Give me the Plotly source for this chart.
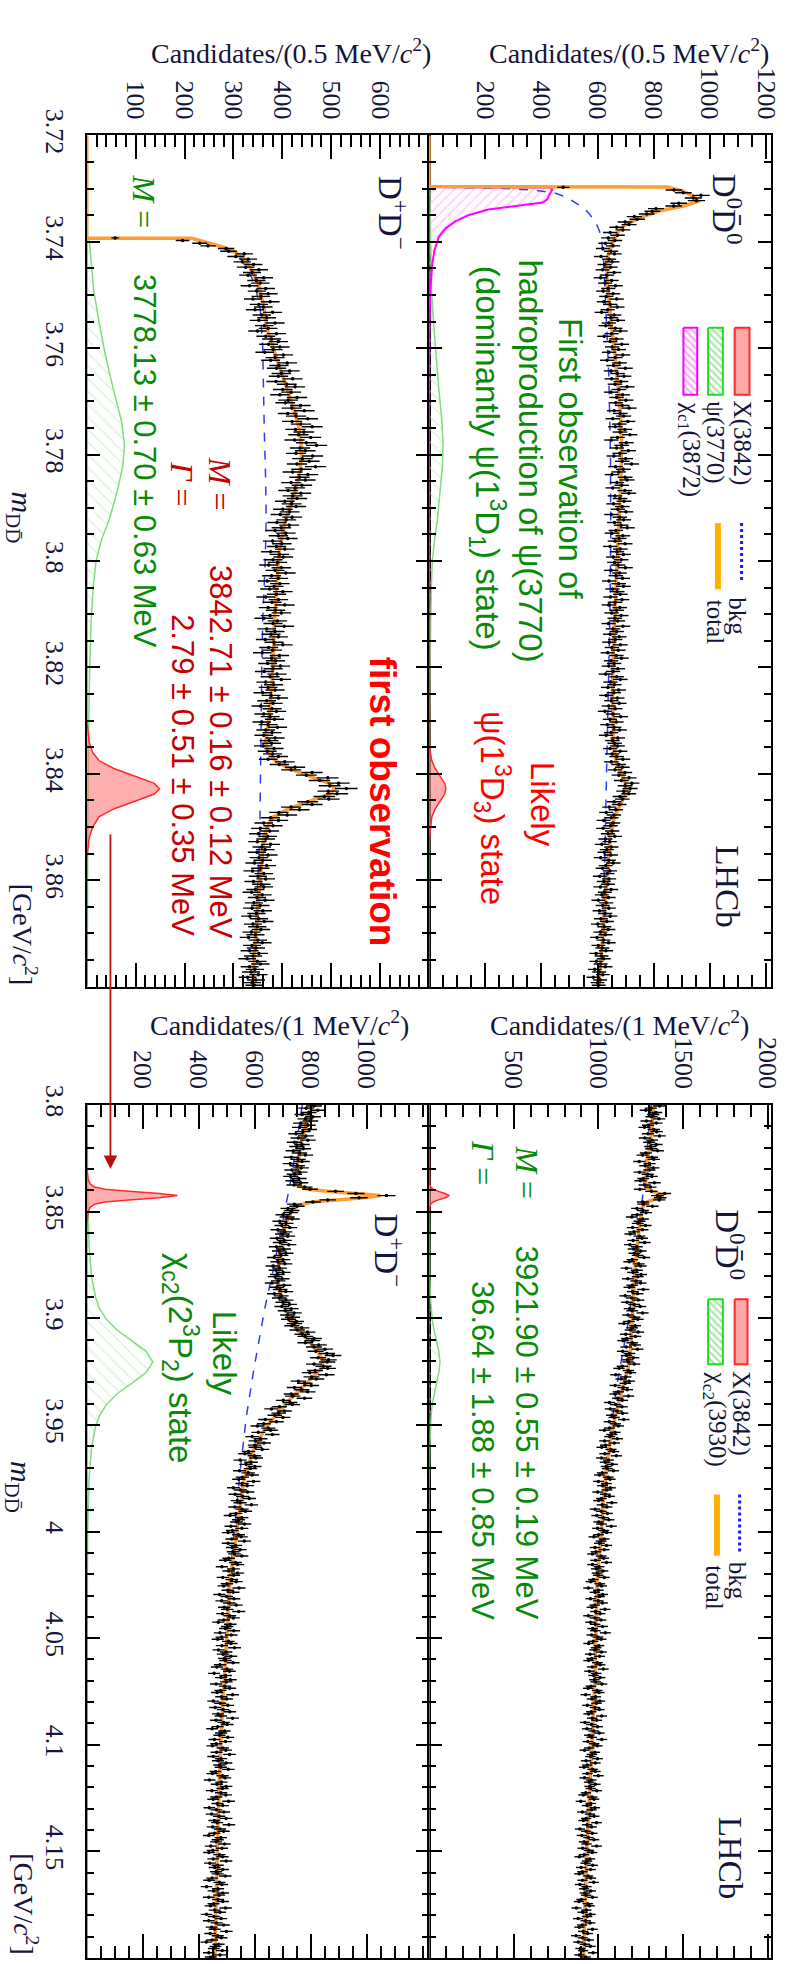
import numpy as np
import plotly.graph_objects as go

W, H = 795, 1964

# ---------------------------------------------------------------- data
# D+D- , 0.5 MeV bins, first filled bin centre 3.73925 GeV
tl_first_bin = 3.73925
tl_counts = [
    58, 196, 231, 248, 285, 290, 322, 305, 330, 318,
    341, 325, 352, 338, 330, 362, 347, 355, 333, 366,
    348, 371, 356, 340, 375, 352, 361, 344, 380, 358,
    368, 352, 385, 363, 371, 349, 388, 366, 378, 392,
    372, 395, 381, 364, 402, 385, 376, 410, 393, 388,
    415, 398, 392, 421, 387, 409, 426, 401, 418, 395,
    430, 412, 406, 437, 419, 445, 411, 428, 452, 420,
    438, 461, 427, 444, 433, 458, 425, 449, 470, 436,
    447, 428, 462, 441, 455, 430, 468, 439, 421, 452,
    435, 447, 418, 440, 426, 412, 438, 421, 430, 405,
    419, 428, 401, 415, 396, 420, 408, 389, 414, 398,
    385, 407, 392, 411, 380, 399, 388, 405, 376, 394,
    402, 381, 390, 372, 398, 385, 407, 378, 392, 369,
    395, 383, 374, 401, 388, 366, 392, 379, 405, 371,
    386, 398, 375, 362, 390, 381, 404, 368, 385, 377,
    392, 365, 383, 401, 372, 380, 359, 394, 378, 386,
    370, 396, 381, 363, 389, 375, 398, 366, 382, 371,
    385, 360, 377, 392, 368, 381, 356, 379, 388, 362,
    375, 384, 358, 371, 390, 366, 379, 362, 385, 373,
    378, 361, 383, 369, 380, 392, 371, 405, 394, 426,
    418, 461, 449, 493, 476, 515, 497, 531, 494, 512,
    486, 495, 452, 461, 418, 435, 393, 410, 376, 392,
    362, 381, 355, 374, 351, 370, 366, 349, 376, 358,
    365, 348, 371, 352, 360, 343, 368, 355, 339, 362,
    350, 366, 341, 357, 362, 345, 337, 359, 348, 365,
    342, 355, 338, 360, 347, 334, 352, 363, 340, 349,
    356, 337, 345, 331, 350, 359, 338, 346, 333, 352,
    340, 328, 349, 355, 333, 344, 336, 351, 329, 346,
    338, 343]

# D0 D0bar , 0.5 MeV bins, first filled bin centre 3.72975 GeV
tr_first_bin = 3.72975
tr_counts = [
    478, 872, 905, 968, 941, 952, 889, 871, 808, 795,
    775, 731, 741, 698, 712, 668, 690, 645, 671, 638,
    662, 628, 655, 619, 648, 660, 612, 641, 652, 625,
    646, 618, 659, 633, 611, 650, 627, 664, 638, 620,
    655, 631, 668, 622, 645, 670, 636, 614, 659, 648,
    672, 640, 629, 663, 681, 650, 624, 667, 645, 686,
    652, 675, 641, 690, 663, 634, 678, 657, 699, 648,
    671, 694, 650, 683, 662, 705, 676, 648, 689, 668,
    701, 665, 688, 712, 659, 681, 693, 654, 708, 677,
    663, 697, 680, 715, 671, 649, 702, 686, 668, 710,
    679, 658, 700, 688, 721, 664, 692, 675, 651, 698,
    705, 669, 686, 654, 697, 711, 662, 680, 694, 657,
    688, 672, 701, 649, 679, 693, 660, 684, 706, 665,
    651, 690, 677, 662, 698, 645, 681, 669, 692, 656,
    684, 660, 673, 699, 648, 678, 665, 689, 641, 675,
    692, 653, 670, 681, 646, 687, 662, 640, 679, 668,
    650, 684, 661, 672, 639, 690, 655, 668, 645, 677,
    663, 642, 681, 651, 674, 636, 667, 685, 648, 659,
    640, 672, 655, 629, 668, 681, 646, 660, 637, 675,
    658, 631, 670, 649, 677, 640, 663, 626, 655, 682,
    644, 667, 635, 659, 678, 648, 630, 672, 653, 661,
    671, 645, 680, 652, 668, 690, 649, 675, 688, 662,
    697, 676, 712, 685, 722, 698, 716, 693, 711, 680,
    688, 659, 677, 642, 665, 631, 658, 649, 622, 655,
    646, 620, 652, 637, 661, 628, 643, 615, 649, 633,
    625, 647, 611, 640, 656, 629, 618, 644, 635, 608,
    641, 622, 637, 610, 648, 626, 615, 639, 603, 631,
    618, 640, 607, 627, 645, 612, 633, 601, 624, 638,
    610, 628, 598, 621, 639, 603, 617, 630, 595, 614,
    622, 596, 611, 628, 590, 606, 619, 585, 609, 600,
    604]

# D+D- , 1 MeV bins from 3.800 GeV
bl_first_bin = 3.8005
bl_counts = [
    812, 784, 826, 793, 770, 808, 781, 799, 765, 790,
    761, 795, 772, 748, 783, 756, 790, 742, 769, 751,
    774, 738, 760, 781, 731, 755, 769, 727, 752, 766,
    733, 761, 742, 729, 758, 737, 764, 741, 779, 798,
    889, 962, 1071, 973, 861, 808, 742, 751, 719, 733,
    728, 701, 716, 734, 690, 712, 697, 725, 683, 708,
    699, 718, 680, 706, 691, 722, 677, 703, 688, 712,
    694, 670, 701, 683, 708, 665, 689, 676, 702, 681,
    673, 698, 684, 662, 705, 679, 691, 711, 670, 695,
    688, 712, 701, 724, 697, 730, 709, 741, 718, 735,
    721, 749, 742, 733, 768, 752, 789, 770, 781, 812,
    806, 781, 829, 812, 851, 818, 858, 880, 827, 864,
    859, 812, 846, 861, 816, 797, 856, 803, 820, 756,
    779, 802, 742, 768, 789, 731, 736, 778, 702, 726,
    735, 689, 660, 706, 686, 672, 701, 638, 678, 633,
    610, 649, 657, 613, 663, 591, 621, 603, 633, 600,
    603, 627, 578, 565, 599, 605, 548, 587, 569, 600,
    585, 546, 577, 591, 556, 543, 596, 555, 573, 524,
    549, 575, 530, 557, 581, 538, 548, 588, 529, 555,
    567, 533, 512, 554, 542, 535, 564, 515, 554, 520,
    505, 542, 552, 518, 563, 505, 532, 520, 548, 523,
    528, 554, 507, 495, 531, 539, 483, 524, 507, 539,
    525, 486, 518, 534, 501, 489, 544, 504, 523, 474,
    500, 526, 482, 509, 534, 491, 502, 543, 485, 511,
    524, 490, 470, 513, 502, 495, 525, 476, 516, 482,
    468, 506, 516, 483, 528, 471, 498, 487, 515, 491,
    496, 523, 476, 465, 501, 510, 455, 496, 480, 513,
    499, 462, 494, 511, 478, 466, 521, 481, 500, 452,
    477, 504, 459, 487, 511, 469, 479, 521, 462, 489,
    502, 468, 448, 492, 480, 474, 504, 456, 496, 463,
    449, 486, 497, 464, 510, 452, 480, 469, 498, 474,
    479, 506, 460, 449, 485, 494, 439, 481, 465, 498,
    485, 447, 480, 497, 463, 452, 507, 467, 486, 438,
    463, 490, 446, 473, 498, 456, 466, 508, 450, 476,
    489, 456, 436, 479, 468, 462, 492, 443, 483, 450,
    437, 474, 485, 452, 498, 440, 468, 457, 486, 462,
    468, 495, 448, 437, 474, 483, 428, 469, 453, 486,
    473, 436, 469, 486, 453, 442, 496, 457, 476, 428,
    454, 480, 436, 464, 489, 446, 457, 499, 441, 468,
    481, 448, 427, 471, 460, 454, 484, 436, 476, 443]

# D0 D0bar , 1 MeV bins from 3.800 GeV
br_first_bin = 3.8005
br_counts = [
    1361, 1310, 1280, 1340, 1324, 1314, 1358, 1284, 1342, 1293,
    1272, 1327, 1344, 1293, 1361, 1274, 1316, 1300, 1342, 1307,
    1313, 1350, 1280, 1261, 1316, 1327, 1241, 1302, 1277, 1324,
    1301, 1243, 1291, 1315, 1265, 1248, 1331, 1273, 1307, 1245,
    1313, 1391, 1348, 1365, 1359, 1263, 1265, 1319, 1228, 1263,
    1281, 1229, 1197, 1262, 1243, 1233, 1278, 1202, 1260, 1210,
    1188, 1242, 1257, 1205, 1273, 1186, 1227, 1208, 1250, 1213,
    1232, 1270, 1200, 1182, 1238, 1249, 1166, 1227, 1204, 1252,
    1232, 1174, 1223, 1249, 1200, 1183, 1265, 1203, 1231, 1158,
    1197, 1236, 1169, 1211, 1247, 1184, 1200, 1261, 1175, 1213,
    1232, 1181, 1151, 1217, 1200, 1189, 1235, 1161, 1218, 1168,
    1146, 1200, 1216, 1164, 1231, 1143, 1183, 1166, 1207, 1171,
    1176, 1212, 1141, 1122, 1177, 1189, 1103, 1161, 1134, 1181,
    1159, 1099, 1146, 1170, 1118, 1098, 1177, 1114, 1141, 1065,
    1102, 1139, 1070, 1110, 1143, 1078, 1093, 1150, 1064, 1100,
    1118, 1066, 1035, 1098, 1079, 1067, 1112, 1037, 1094, 1042,
    1020, 1074, 1090, 1038, 1106, 1018, 1059, 1040, 1082, 1046,
    1053, 1089, 1023, 1006, 1058, 1069, 1000, 1047, 1025, 1070,
    1050, 996, 1041, 1065, 1018, 1001, 1079, 1022, 1050, 980,
    1017, 1053, 990, 1029, 1062, 1002, 1018, 1076, 995, 1031,
    1049, 1001, 973, 1034, 1016, 1006, 1048, 980, 1034, 986,
    965, 1016, 1031, 983, 1048, 965, 1004, 988, 1027, 992,
    999, 1035, 970, 955, 1008, 1019, 941, 1000, 979, 1025,
    1007, 953, 999, 1024, 978, 962, 1039, 983, 1010, 941,
    979, 1015, 953, 981, 1025, 966, 982, 1041, 960, 997,
    1016, 969, 942, 1003, 987, 978, 1018, 951, 1007, 960,
    942, 994, 1010, 963, 1029, 947, 987, 972, 1010, 976,
    984, 1021, 956, 940, 993, 1004, 925, 984, 962, 1008,
    989, 935, 980, 1005, 958, 942, 1019, 963, 990, 921,
    959, 995, 933, 972, 1005, 946, 961, 1020, 938, 975,
    993, 946, 918, 979, 962, 953, 995, 927, 982, 934,
    915, 966, 982, 935, 1000, 918, 958, 945, 982, 948,
    955, 991, 926, 911, 963, 974, 896, 955, 933, 979,
    959, 905, 950, 975, 928, 912, 989, 933, 960, 891,
    928, 964, 902, 941, 974, 915, 930, 989, 907, 944,
    963, 916, 888, 950, 933, 924, 966, 898, 954, 906,
    887, 939, 955, 906, 972, 891, 930, 915, 955, 920,
    928, 965, 900, 885, 937, 948, 870, 929, 907, 953,
    934, 880, 925, 951, 904, 888, 965, 910, 937, 868,
    907, 943, 881, 920, 953, 894, 910, 969, 888, 925]

# ---------------------------------------------------------------- fit curves
tl_tot_m = [3.7200, 3.7393, 3.7393, 3.7400, 3.7410, 3.7420, 3.7430, 3.7450, 3.7480, 3.7520, 3.7560,
            3.7610, 3.7660, 3.7710, 3.7750, 3.7790, 3.7830, 3.7870, 3.7920, 3.7980, 3.8050, 3.8110,
            3.8170, 3.8230, 3.8300, 3.8340, 3.8360, 3.8375, 3.8390, 3.8405, 3.8418, 3.8428, 3.8438,
            3.8451, 3.8466, 3.8481, 3.8500, 3.8520, 3.8560, 3.8600, 3.8660, 3.8720, 3.8800]
tl_tot_v = [0, 0, 215, 240, 280, 305, 320, 336, 351, 362, 368,
            385, 403, 422, 434, 440, 436, 426, 407, 394, 388, 384,
            382, 379, 372, 366, 372, 385, 413, 458, 496, 508, 496,
            458, 412, 382, 369, 362, 358, 354, 349, 344, 340]
tl_bkg_m = [3.7393, 3.7400, 3.7410, 3.7420, 3.7430, 3.7450, 3.7480, 3.7528, 3.7600, 3.7676, 3.7750,
            3.7850, 3.7922, 3.8000, 3.8107, 3.8200, 3.8300, 3.8400, 3.8509, 3.8600, 3.8700, 3.8800]
tl_bkg_v = [210, 233, 272, 298, 313, 328, 344, 355, 360, 361, 363,
            366, 367, 365, 360, 358, 357, 356, 354, 350, 345, 340]
tl_psi_m = [3.7200, 3.7393, 3.7395, 3.7450, 3.7490, 3.7550, 3.7613, 3.7676, 3.7737, 3.7780, 3.7820,
            3.7870, 3.7922, 3.7960, 3.8000, 3.8050, 3.8110, 3.8200, 3.8300, 3.8500, 3.8800]
tl_psi_v = [0, 0, 5, 10, 14, 25, 38, 54, 71, 77, 74,
            62, 46, 30, 19, 13, 9, 6, 4, 2, 1]
x3842_m = [3.7200, 3.8300, 3.8340, 3.8360, 3.8375, 3.8390, 3.8405, 3.8418, 3.8428, 3.8438, 3.8451,
           3.8466, 3.8481, 3.8500, 3.8520, 3.8560, 3.8800]
tl_x_v = [0, 0, 5, 12, 25, 55, 100, 138, 149, 138, 100, 55, 25, 12, 5, 0, 0]
tr_x_v = [0, 0, 2, 5, 10, 22, 40, 56, 60, 56, 40, 22, 10, 5, 2, 0, 0]

tr_tot_m = [3.7200, 3.7296, 3.7297, 3.7305, 3.7315, 3.7324, 3.7332, 3.7342, 3.7355, 3.7367, 3.7380,
            3.7398, 3.7420, 3.7440, 3.7470, 3.7510, 3.7560, 3.7610, 3.7660, 3.7720, 3.7780, 3.7850,
            3.7922, 3.8000, 3.8100, 3.8170, 3.8250, 3.8310, 3.8340, 3.8375, 3.8405, 3.8428, 3.8451,
            3.8481, 3.8520, 3.8570, 3.8650, 3.8720, 3.8800]
tr_tot_v = [0, 0, 850, 905, 945, 958, 910, 818, 750, 702, 675,
            656, 640, 632, 633, 640, 650, 662, 672, 681, 686, 683,
            676, 669, 662, 656, 653, 654, 657, 665, 690, 705, 688,
            660, 645, 636, 626, 617, 605]
tr_bkg_m = [3.7297, 3.7299, 3.7303, 3.7308, 3.7316, 3.7324, 3.7336, 3.7348, 3.7365, 3.7380, 3.7400,
            3.7428, 3.7480, 3.7550, 3.7650, 3.7800, 3.7950, 3.8100, 3.8250, 3.8400, 3.8550, 3.8700, 3.8800]
tr_bkg_v = [0, 250, 380, 446, 490, 516, 550, 572, 595, 607, 615,
            621, 626, 632, 640, 646, 647, 644, 638, 632, 626, 617, 606]
tr_chi_m = [3.7200, 3.7297, 3.7298, 3.7302, 3.7312, 3.7320, 3.7326, 3.7333, 3.7339, 3.7350, 3.7361,
            3.7375, 3.7391, 3.7415, 3.7440, 3.7490, 3.7550, 3.7650, 3.8800]
tr_chi_v = [0, 0, 430, 439, 428, 421, 405, 300, 211, 140, 95, 58, 35, 20, 12, 5, 2, 0.5, 0]
tr_psi_m = [3.7200, 3.7297, 3.7300, 3.7450, 3.7490, 3.7550, 3.7613, 3.7676, 3.7737, 3.7780, 3.7820,
            3.7870, 3.7922, 3.7960, 3.8000, 3.8050, 3.8110, 3.8200, 3.8300, 3.8500, 3.8800]
tr_psi_v = [0, 0, 3, 7, 9, 16, 25, 35, 46, 50, 48, 40, 30, 20, 12, 8, 6, 4, 3, 1.5, 0.7]

bl_tot_m = [3.8000, 3.8152, 3.8308, 3.8350, 3.8375, 3.8395, 3.8405, 3.8415, 3.8425, 3.8435, 3.8445,
            3.8455, 3.8468, 3.8490, 3.8554, 3.8620, 3.8692, 3.8845, 3.8983, 3.9050, 3.9107, 3.9150,
            3.9200, 3.9240, 3.9278, 3.9384, 3.9508, 3.9615, 3.9768, 3.9998, 4.0229, 4.0500, 4.0740,
            4.1000, 4.1500, 4.2000]
bl_tot_v = [803, 771, 750, 747, 752, 790, 860, 960, 1050, 990, 890,
            805, 762, 735, 712, 698, 688, 683, 718, 750, 793, 822,
            846, 835, 806, 723, 642, 595, 560, 535, 512, 500, 490,
            478, 466, 458]
bl_bkg_m = [3.8000, 3.8200, 3.8380, 3.8540, 3.8770, 3.8955, 3.9232, 3.9463, 3.9694, 4.0000, 4.0230,
            4.0740, 4.1000, 4.1500, 4.2000]
bl_bkg_v = [770, 748, 725, 702, 667, 636, 598, 570, 550, 527, 510, 488, 477, 465, 457]
chic2_m = [3.8000, 3.8405, 3.8655, 3.8805, 3.8905, 3.8955, 3.9005, 3.9055, 3.9105, 3.9155, 3.9205,
           3.9255, 3.9305, 3.9355, 3.9405, 3.9455, 3.9505, 3.9605, 3.9755, 4.0005, 4.0500, 4.2000]
bl_chi_v = [1, 3, 8, 17, 32, 46, 70, 108, 160, 212, 236, 212, 160, 108, 70, 46, 32, 17, 8, 3, 1, 0.3]
br_chi_v = [0.3, 0.8, 2.2, 4.7, 9, 13, 19, 30, 44, 58, 65, 58, 44, 30, 19, 13, 9, 4.7, 2.2, 0.8, 0.3, 0]
x3842b_m = [3.8000, 3.8300, 3.8350, 3.8370, 3.8385, 3.8395, 3.8405, 3.8415, 3.8425, 3.8435, 3.8445,
            3.8455, 3.8465, 3.8480, 3.8500, 3.8550, 3.8600, 4.2000]
bl_x_v = [0, 0.5, 5, 12, 28, 65, 150, 260, 324, 260, 150, 65, 28, 12, 5, 1, 0, 0]
br_x_v = [0, 0.2, 2, 4, 10, 24, 56, 96, 120, 96, 56, 24, 10, 4, 2, 0.4, 0, 0]

br_tot_m = [3.8000, 3.8150, 3.8310, 3.8360, 3.8385, 3.8395, 3.8405, 3.8415, 3.8425, 3.8435, 3.8445,
            3.8455, 3.8468, 3.8490, 3.8550, 3.8614, 3.8720, 3.8845, 3.8950, 3.9075, 3.9150, 3.9230,
            3.9300, 3.9384, 3.9537, 3.9692, 3.9850, 3.9998, 4.0120, 4.0230, 4.0400, 4.0600, 4.0740,
            4.1000, 4.1250, 4.1490, 4.1750, 4.2000]
br_tot_v = [1328, 1310, 1283, 1280, 1285, 1295, 1322, 1360, 1383, 1358, 1318,
            1285, 1268, 1257, 1245, 1234, 1221, 1211, 1204, 1195, 1190, 1176,
            1152, 1124, 1077, 1048, 1030, 1019, 1004, 992, 988, 982, 977,
            962, 946, 932, 921, 913]
br_bkg_m = [3.8000, 3.8200, 3.8400, 3.8600, 3.8800, 3.9000, 3.9100, 3.9200, 3.9300, 3.9400, 3.9540,
            3.9700, 4.0000, 4.0230, 4.0740, 4.1000, 4.1490, 4.2000]
br_bkg_v = [1312, 1290, 1265, 1238, 1210, 1180, 1158, 1133, 1112, 1095, 1073,
            1047, 1019, 992, 977, 962, 932, 913]

# axis ticks
tl_cand_ticks = [100, 200, 300, 400, 500, 600]
tr_cand_ticks = [200, 400, 600, 800, 1000, 1200]
bl_cand_ticks = [200, 400, 600, 800, 1000]
br_cand_ticks = [500, 1000, 1500, 2000]
top_mass_ticks = [3.72, 3.74, 3.76, 3.78, 3.80, 3.82, 3.84, 3.86]
top_mass_text = ["3.72", "3.74", "3.76", "3.78", "3.8", "3.82", "3.84", "3.86"]
bot_mass_ticks = [3.80, 3.85, 3.90, 3.95, 4.00, 4.05, 4.10, 4.15]
bot_mass_text = ["3.8", "3.85", "3.9", "3.95", "4", "4.05", "4.1", "4.15"]

# ---------------------------------------------------------------- styling helpers
SERIF = "Liberation Serif, DejaVu Serif, serif"
SANS = "Liberation Sans, Arial, sans-serif"
INK = "#15153a"
ORANGE = "#ff9d33"
BLUE = "#2b3cff"
RED_L = "#ff2a2a"
RED_F = "rgba(255,110,110,0.55)"
GREEN_L = "#7fdc7f"
MAG = "#ff00ff"


def fx(px):
    return px / W


def fy(py):
    return 1 - py / H


tick_font = dict(family=SERIF, size=26, color=INK)


def cand_axis(px0, px1, rng, vals, minor_dt, anchor):
    return dict(domain=[fx(px0), fx(px1)], range=rng, anchor=anchor, side="top",
                tickmode="array", tickvals=vals, ticktext=[str(v) for v in vals],
                tickangle=90, ticks="inside", ticklen=24, tickwidth=1.5, tickcolor="black",
                minor=dict(tickmode="linear", tick0=0, dtick=minor_dt, ticks="inside",
                           ticklen=12, tickwidth=1.5, tickcolor="black", showgrid=False),
                showline=True, linewidth=2, linecolor="black", mirror="ticks",
                showgrid=False, zeroline=False, tickfont=tick_font,
                ticklabelstandoff=5, fixedrange=True)


def mass_axis(py0, py1, rng, vals, texts, minor_dt, anchor, labels):
    return dict(domain=[fy(py1), fy(py0)], range=rng, anchor=anchor, side="left",
                tickmode="array", tickvals=vals, ticktext=texts, showticklabels=labels,
                tickangle=90, ticks="inside", ticklen=13, tickwidth=1.5, tickcolor="black",
                minor=dict(tickmode="linear", tick0=rng[1], dtick=minor_dt, ticks="inside",
                           ticklen=7, tickwidth=1.5, tickcolor="black", showgrid=False),
                showline=True, linewidth=2, linecolor="black", mirror="ticks",
                showgrid=False, zeroline=False, tickfont=tick_font,
                ticklabelstandoff=8, fixedrange=True)


def curve(m, v, xa, ya, color, width, dash=None, fill=False, fillcolor=None, pattern=None):
    d = dict(x=v, y=m, mode="lines", line=dict(color=color, width=width, dash=dash),
             xaxis=xa, yaxis=ya, showlegend=False, hoverinfo="skip")
    if fill:
        d["fill"] = "tozerox"
        d["fillcolor"] = fillcolor if fillcolor else "rgba(0,0,0,0)"
    if pattern:
        d["fillpattern"] = pattern
    return go.Scatter(**d)


def data_trace(first, step, counts, xa, ya):
    c = np.array(counts, dtype=float)
    m = first + step * np.arange(len(c))
    return go.Scatter(x=c, y=m, mode="markers", marker=dict(color="black", size=3.5),
                      error_x=dict(type="data", array=np.sqrt(c), color="black", thickness=1.4, width=0),
                      error_y=dict(type="constant", value=step / 2, color="black", thickness=1.4, width=0),
                      xaxis=xa, yaxis=ya, showlegend=False, hoverinfo="skip")


green_hatch = dict(shape="\\", fgcolor="#bdeebd", bgcolor="rgba(255,255,255,0)", size=9, solidity=0.18)
mag_hatch = dict(shape="/", fgcolor="#ff9cff", bgcolor="rgba(255,255,255,0)", size=7, solidity=0.25)

traces = []
# ---- top left : D+D- low mass
traces += [
    curve(tl_psi_m, tl_psi_v, "x", "y", GREEN_L, 1.5, fill=True, pattern=green_hatch),
    curve(x3842_m, tl_x_v, "x", "y", RED_L, 1.5, fill=True, fillcolor=RED_F),
    curve(tl_bkg_m, tl_bkg_v, "x", "y", BLUE, 1.5, dash="dash"),
    curve(tl_tot_m, tl_tot_v, "x", "y", ORANGE, 3.5),
    data_trace(tl_first_bin, 0.0005, tl_counts, "x", "y"),
]
# ---- top right : D0D0bar low mass
traces += [
    curve(tr_psi_m, tr_psi_v, "x2", "y2", GREEN_L, 1.5, fill=True, pattern=green_hatch),
    curve(tr_chi_m, tr_chi_v, "x2", "y2", MAG, 2, fill=True, pattern=mag_hatch),
    curve(x3842_m, tr_x_v, "x2", "y2", RED_L, 1.5, fill=True, fillcolor=RED_F),
    curve(tr_bkg_m, tr_bkg_v, "x2", "y2", BLUE, 1.5, dash="dash"),
    curve(tr_tot_m, tr_tot_v, "x2", "y2", ORANGE, 3.5),
    data_trace(tr_first_bin, 0.0005, tr_counts, "x2", "y2"),
]
# ---- bottom left : D+D- high mass
traces += [
    curve(chic2_m, bl_chi_v, "x3", "y3", GREEN_L, 1.5, fill=True, pattern=green_hatch),
    curve(x3842b_m, bl_x_v, "x3", "y3", RED_L, 1.5, fill=True, fillcolor=RED_F),
    curve(bl_bkg_m, bl_bkg_v, "x3", "y3", BLUE, 1.5, dash="dash"),
    curve(bl_tot_m, bl_tot_v, "x3", "y3", ORANGE, 3.5),
    data_trace(bl_first_bin, 0.001, bl_counts, "x3", "y3"),
]
# ---- bottom right : D0D0bar high mass
traces += [
    curve(chic2_m, br_chi_v, "x4", "y4", GREEN_L, 1.5, fill=True, pattern=green_hatch),
    curve(x3842b_m, br_x_v, "x4", "y4", RED_L, 1.5, fill=True, fillcolor=RED_F),
    curve(br_bkg_m, br_bkg_v, "x4", "y4", BLUE, 1.5, dash="dash"),
    curve(br_tot_m, br_tot_v, "x4", "y4", ORANGE, 3.5),
    data_trace(br_first_bin, 0.001, br_counts, "x4", "y4"),
]


# ---- legend glyphs on a full-page pixel overlay
def box(x0, x1, y0, y1, lc, fc=None, pattern=None):
    d = dict(x=[x0, x1, x1, x0, x0], y=[y0, y0, y1, y1, y0], mode="lines", fill="toself",
             fillcolor=fc if fc else "rgba(0,0,0,0)", line=dict(color=lc, width=2),
             xaxis="x5", yaxis="y5", showlegend=False, hoverinfo="skip")
    if pattern:
        d["fillpattern"] = pattern
    return go.Scatter(**d)


def seg(x, y0, y1, color, width, dash=None):
    return go.Scatter(x=[x, x], y=[y0, y1], mode="lines", line=dict(color=color, width=width, dash=dash),
                      xaxis="x5", yaxis="y5", showlegend=False, hoverinfo="skip")


leg_g = dict(shape="\\", fgcolor="#33cc33", bgcolor="white", size=5, solidity=0.35)
leg_m = dict(shape="\\", fgcolor="#ff33ff", bgcolor="white", size=5, solidity=0.35)
traces += [
    box(745, 760, 305, 373, "#ff2a2a", "#ffa8a8"),
    box(718, 733, 305, 373, "#22dd22", pattern=leg_g),
    box(693, 707, 305, 373, "#ff00ff", pattern=leg_m),
    seg(752, 503, 563, "#1a1aff", 3, "dot"),
    seg(728, 503, 570, "#ffb000", 6),
    box(745, 758, 1290, 1356, "#ff2a2a", "#ffa8a8"),
    box(718, 733, 1290, 1356, "#22dd22", pattern=leg_g),
    seg(750, 1488, 1548, "#1a1aff", 3, "dot"),
    seg(727, 1488, 1550, "#ffb000", 6),
]

fig = go.Figure(traces)


def txt(text, px, py, size, color, family, angle=90):
    return dict(text=text, x=fx(px), y=fy(py), xref="paper", yref="paper", showarrow=False,
                textangle=angle, font=dict(size=size, color=color, family=family),
                xanchor="center", yanchor="middle")


DRED = "#c80000"
GRN = "#088a08"
ann = [
    # axis titles
    txt("Candidates/(0.5 MeV/<i>c</i><sup>2</sup>)", 295, 25, 28, INK, SERIF, 0),
    txt("Candidates/(0.5 MeV/<i>c</i><sup>2</sup>)", 638, 25, 28, INK, SERIF, 0),
    txt("Candidates/(1 MeV/<i>c</i><sup>2</sup>)", 283, 1010, 28, INK, SERIF, 0),
    txt("Candidates/(1 MeV/<i>c</i><sup>2</sup>)", 628, 1010, 28, INK, SERIF, 0),
    txt("<i>m</i><sub>DD\u0304</sub>", 20, 497, 30, INK, SERIF),
    txt("[GeV/<i>c</i><sup>2</sup>]", 25, 920, 28, INK, SERIF),
    txt("<i>m</i><sub>DD\u0304</sub>", 20, 1480, 30, INK, SERIF),
    txt("[GeV/<i>c</i><sup>2</sup>]", 25, 1903, 28, INK, SERIF),
    # channel labels
    txt("D<sup>+</sup>D<sup>\u2212</sup>", 398, 189, 33, INK, SERIF),
    txt("D<sup>0</sup>D\u0304<sup>0</sup>", 737, 185, 33, INK, SERIF),
    txt("LHCb", 737, 872, 33, INK, SERIF),
    txt("D<sup>+</sup>D<sup>\u2212</sup>", 394, 1240, 33, INK, SERIF),
    txt("D<sup>0</sup>D\u0304<sup>0</sup>", 740, 1235, 33, INK, SERIF),
    txt("LHCb", 740, 1857, 33, INK, SERIF),
    # legends
    txt("X(3842)", 752, 422, 25, INK, SERIF),
    txt("\u03c8(3770)", 725, 421, 25, INK, SERIF),
    txt("\u03c7<sub>c1</sub>(3872)", 700, 428, 25, INK, SERIF),
    txt("bkg", 748, 597, 25, INK, SERIF),
    txt("total", 725, 603, 25, INK, SERIF),
    txt("X(3842)", 752, 1406, 25, INK, SERIF),
    txt("\u03c7<sub>c2</sub>(3930)", 725, 1412, 25, INK, SERIF),
    txt("bkg", 748, 1575, 25, INK, SERIF),
    txt("total", 725, 1582, 25, INK, SERIF),
    # physics annotations, top right
    txt("First observation of", 578, 437, 33, GRN, SANS),
    txt("hadroproduction of \u03c8(3770)", 537, 440, 33, GRN, SANS),
    txt("(dominantly \u03c8(1<sup>3</sup>D<sub>1</sub>) state)", 494, 437, 33, GRN, SANS),
    txt("Likely", 550, 788, 33, "#ff0000", SANS),
    txt("\u03c8(1<sup>3</sup>D<sub>3</sub>) state", 500, 792, 33, "#ff0000", SANS),
    # top left
    txt("<b>first observation</b>", 388, 785, 37, "#ff0000", SANS),
    txt("<i>M</i> =", 223, 463, 32, DRED, SERIF),
    txt("3842.71 \u00b1 0.16 \u00b1 0.12 MeV", 223, 735, 31, DRED, SANS),
    txt("<i>\u0393</i> =", 185, 463, 32, DRED, SERIF),
    txt("2.79 \u00b1 0.51 \u00b1 0.35 MeV", 185, 759, 31, DRED, SANS),
    txt("<i>M</i> =", 146, 177, 32, GRN, SERIF),
    txt("3778.13 \u00b1 0.70 \u00b1 0.63 MeV", 146, 440, 31, GRN, SANS),
    # bottom right
    txt("<i>M</i> =", 534, 1161, 32, GRN, SERIF),
    txt("3921.90 \u00b1 0.55 \u00b1 0.19 MeV", 534, 1425, 31, GRN, SANS),
    txt("<i>\u0393</i> =", 490, 1151, 32, GRN, SERIF),
    txt("36.64 \u00b1 1.88 \u00b1 0.85 MeV", 490, 1443, 31, GRN, SANS),
    # bottom left
    txt("Likely", 228, 1345, 33, GRN, SANS),
    txt("\u03c7<sub>c2</sub>(2<sup>3</sup>P<sub>2</sub>) state", 183, 1350, 33, GRN, SANS),
    # arrow from X(3842) in the low-mass fit to the high-mass fit
    dict(x=fx(112), y=fy(1158), xref="paper", yref="paper", text="", showarrow=True,
         ax=0, ay=-336, axref="pixel", ayref="pixel", arrowhead=2, arrowsize=1.5,
         arrowwidth=1.8, arrowcolor="#b81010", standoff=0),
]

fig.update_layout(
    width=W, height=H, margin=dict(l=0, r=0, t=0, b=0),
    paper_bgcolor="white", plot_bgcolor="rgba(0,0,0,0)", showlegend=False,
    xaxis=cand_axis(88, 435, [0, 700], tl_cand_ticks, 20, "y"),
    yaxis=mass_axis(110, 973, [3.88, 3.72], top_mass_ticks, top_mass_text, 0.005, "x", True),
    xaxis2=cand_axis(435, 782, [0, 1218], tr_cand_ticks, 50, "y2"),
    yaxis2=mass_axis(110, 973, [3.88, 3.72], top_mass_ticks, top_mass_text, 0.005, "x2", False),
    xaxis3=cand_axis(88, 435, [0, 1223], bl_cand_ticks, 50, "y3"),
    yaxis3=mass_axis(1093, 1958, [4.20, 3.80], bot_mass_ticks, bot_mass_text, 0.01, "x3", True),
    xaxis4=cand_axis(435, 782, [0, 2020], br_cand_ticks, 100, "y4"),
    yaxis4=mass_axis(1093, 1958, [4.20, 3.80], bot_mass_ticks, bot_mass_text, 0.01, "x4", False),
    xaxis5=dict(domain=[0, 1], range=[0, W], visible=False, fixedrange=True, anchor="y5"),
    yaxis5=dict(domain=[0, 1], range=[H, 0], visible=False, fixedrange=True, anchor="x5"),
    annotations=ann,
)

fig.write_html("out.html", config={"displayModeBar": False})
